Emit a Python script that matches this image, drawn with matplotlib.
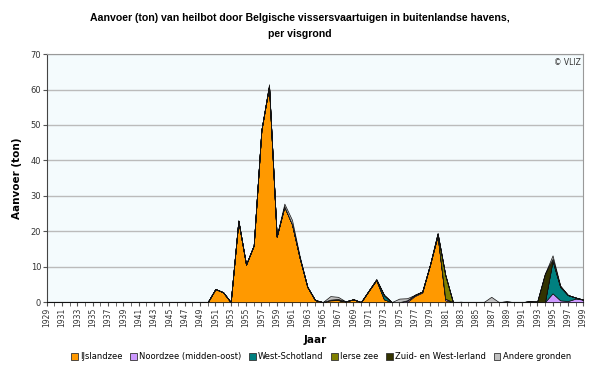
import matplotlib
matplotlib.use("Agg")
import matplotlib.pyplot as plt
from matplotlib.patches import Patch

years = list(range(1929, 2000))

# values per visgrond, 1929..1999 (ton)
ijslandzee = [0] * 21 + [
    0, 3.7, 2.8, 0, 23, 10.6, 16, 48.5, 61, 18.5,      # 1950-1959
    27, 22, 12.5, 4.3, 0.6, 0, 0.5, 0.6, 0.2, 0.8,     # 1960-1969
    0, 3.2, 6.2, 0.8, 0, 0, 0, 1.7, 2.7, 10.5,         # 1970-1979
    18.8, 0.5, 0, 0, 0, 0, 0, 0, 0, 0,                 # 1980-1989
    0, 0, 0, 0, 0, 0, 0, 0, 0, 0,                      # 1990-1999
]
noordzee = [0] * 21 + [
    0, 0, 0, 0, 0, 0, 0, 0, 0, 0,
    0, 0, 0, 0, 0, 0, 0.2, 0, 0, 0,
    0, 0, 0, 0, 0, 0, 0.5, 0.3, 0.3, 0,
    0, 0.5, 0, 0, 0, 0, 0, 0, 0, 0,
    0, 0, 0.2, 0, 0, 2.5, 0.5, 0.3, 1.0, 0.7,
]
west_schotland = [0] * 21 + [
    0, 0, 0, 0, 0, 0, 0, 0, 0, 0,
    0, 0, 0, 0, 0, 0, 0, 0, 0, 0,
    0, 0, 0.2, 1.2, 0, 0, 0, 0, 0, 0,
    0, 0, 0, 0, 0, 0, 0, 0, 0, 0,
    0, 0, 0, 0, 0, 9.2, 3.8, 1.7, 0.3, 0,
]
ierse_zee = [0] * 21 + [
    0, 0, 0, 0, 0, 0, 0, 0, 0, 0,
    0, 0, 0, 0, 0, 0, 0, 0, 0, 0,
    0, 0, 0, 0, 0, 0, 0, 0, 0, 0,
    0.6, 6.7, 0, 0, 0, 0, 0, 0, 0, 0,
    0, 0, 0, 0, 0, 0, 0, 0, 0, 0,
]
zuid_west_ierland = [0] * 21 + [
    0, 0, 0, 0, 0, 0, 0, 0, 0, 0,
    0, 0, 0, 0, 0, 0, 0, 0.3, 0, 0,
    0, 0, 0, 0, 0, 0, 0, 0, 0, 0,
    0, 0, 0, 0.1, 0, 0, 0, 0, 0, 0.2,
    0, 0, 0, 0.2, 8, 0.5, 0.2, 0, 0, 0,
]
andere = [0] * 21 + [
    0, 0, 0, 0, 0, 0, 0, 0, 0.5, 0,
    0.8, 1.2, 0.5, 0, 0, 0, 1.0, 0.6, 0, 0,
    0, 0, 0, 0, 0, 1.0, 0.6, 0, 0, 0,
    0, 0, 0, 0, 0, 0, 0, 1.5, 0, 0,
    0, 0, 0, 0, 0, 1.0, 0.2, 0, 0, 0,
]

labels = ["IJslandzee", "Noordzee (midden-oost)", "West-Schotland",
          "Ierse zee", "Zuid- en West-Ierland", "Andere gronden"]
colors = ["#FF9900", "#CC99FF", "#008080", "#808000", "#333300", "#C0C0C0"]

fig = plt.figure(figsize=(6.0, 3.68), dpi=100)
ax = fig.add_axes([0.078, 0.179, 0.894, 0.674])
ax.set_facecolor("#F4FBFD")

ax.stackplot(years, ijslandzee, noordzee, west_schotland, ierse_zee,
             zuid_west_ierland, andere, colors=colors,
             edgecolor="#111111", linewidth=0.5, zorder=3)

ax.set_xlim(1929, 1999)
ax.set_ylim(0, 70)
ax.set_yticks(range(0, 71, 10))
ax.set_xticks(range(1929, 2000, 2))
ax.set_xticks(range(1929, 2000), minor=True)
ax.tick_params(axis="x", which="both", labelsize=5.5, rotation=90, length=3,
               color="#555555", labelcolor="#333333", pad=1)
ax.tick_params(axis="y", labelsize=6, length=3, color="#555555",
               labelcolor="#333333", pad=1)
ax.grid(True, axis="y", color="#BBBBBB", linewidth=1.0, zorder=1)
ax.set_axisbelow(True)
for side in ["top", "right"]:
    ax.spines[side].set_color("#999999")
    ax.spines[side].set_linewidth(0.8)
for side in ["left", "bottom"]:
    ax.spines[side].set_color("#444444")
    ax.spines[side].set_linewidth(0.8)

ax.set_ylabel("Aanvoer (ton)", fontsize=7.5, weight="bold", labelpad=6)
ax.set_xlabel("Jaar", fontsize=7.5, weight="bold", labelpad=6)
ax.text(0.995, 0.985, "© VLIZ", transform=ax.transAxes, ha="right", va="top",
        fontsize=5.5, color="#333333")

fig.text(0.5, 0.965,
         "Aanvoer (ton) van heilbot door Belgische vissersvaartuigen in buitenlandse havens,\nper visgrond",
         ha="center", va="top", fontsize=7.6, weight="bold",
         family="Liberation Sans", linespacing=1.8)

handles = [Patch(facecolor=c, edgecolor="#333333", linewidth=0.6) for c in colors]
fig.legend(handles, labels, loc="center", bbox_to_anchor=(0.535, 0.03),
           ncol=6, fontsize=6, frameon=False, handlelength=0.8,
           handleheight=0.8, handletextpad=0.3, columnspacing=0.9)

fig.savefig("out.png", dpi=100)
